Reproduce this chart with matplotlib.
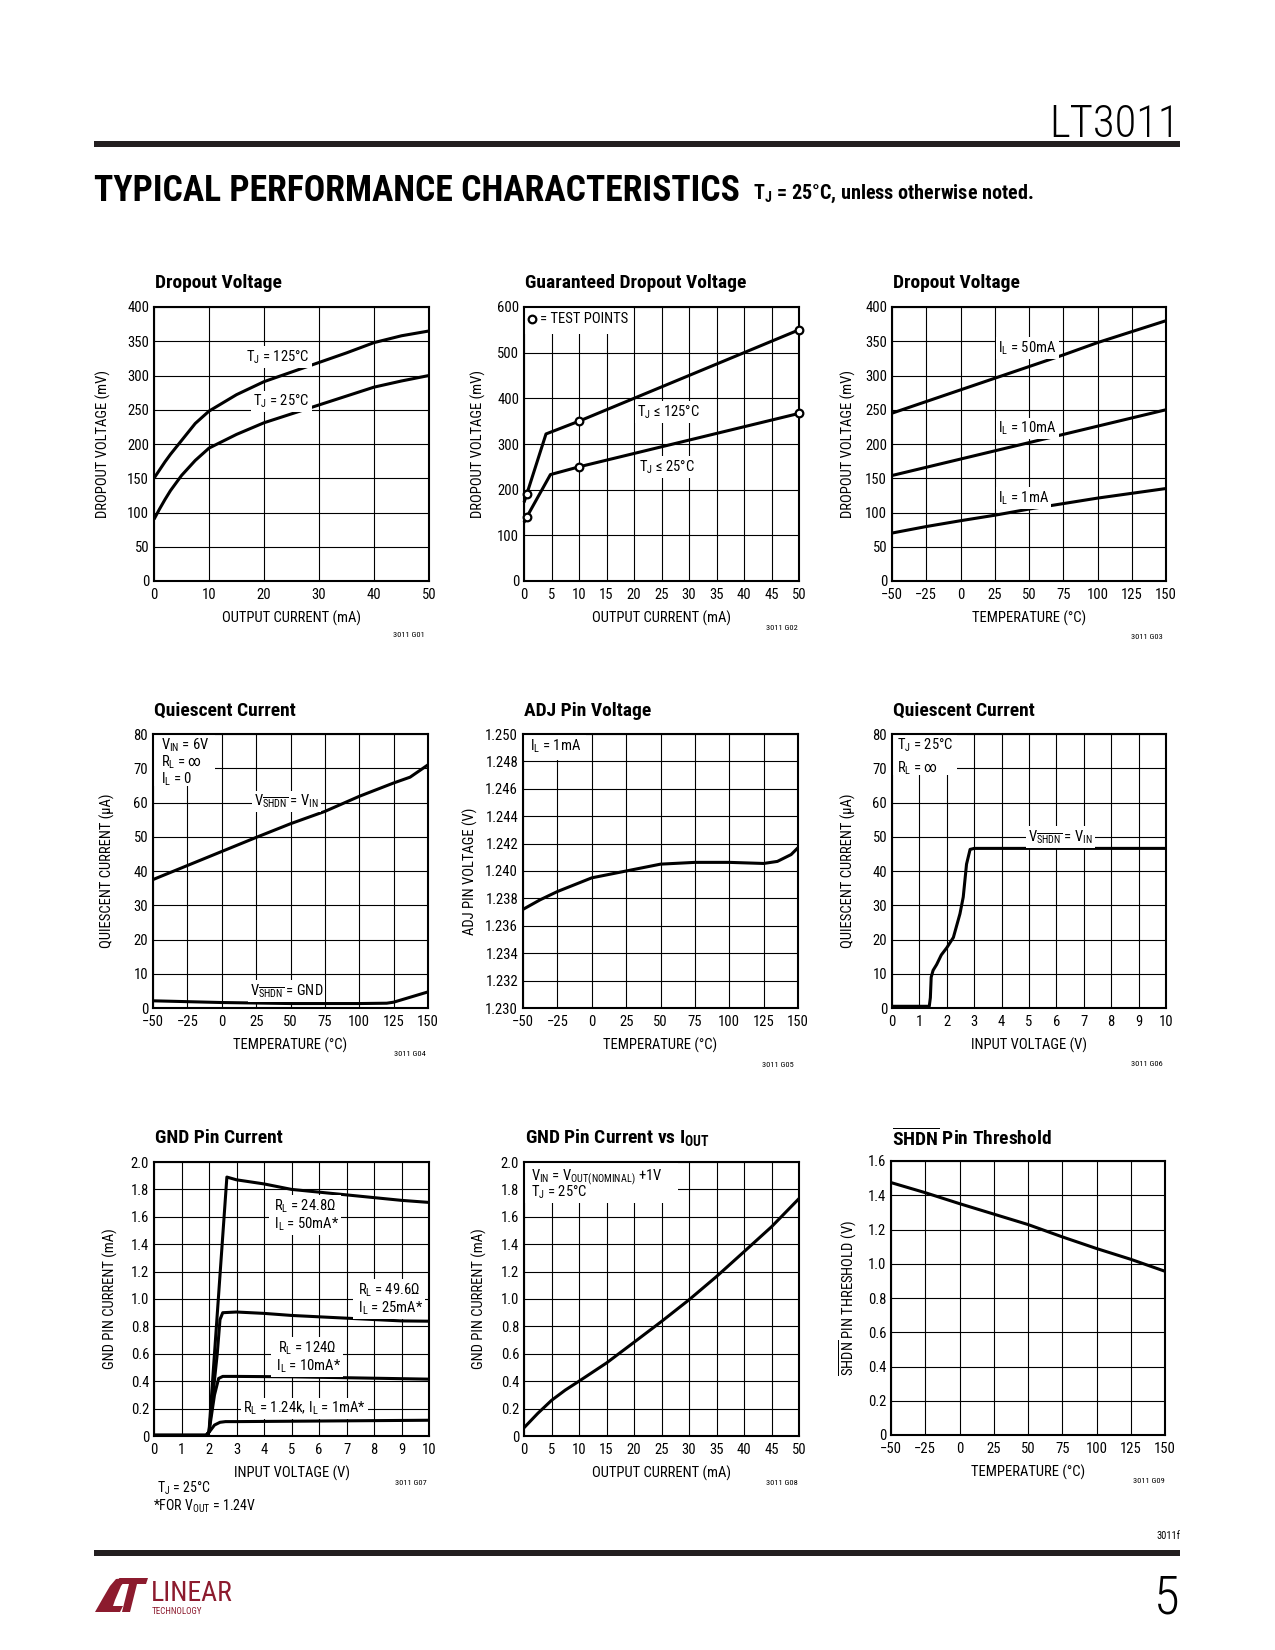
import matplotlib
matplotlib.use('Agg')
import matplotlib.pyplot as plt
from matplotlib import font_manager
from matplotlib.patches import Rectangle, Polygon

W, H = 1275, 1650

# narrow sans (closest to the datasheet's Helvetica Condensed), if installed
_installed = {f.name for f in font_manager.fontManager.ttflist}
FONT = next((f for f in ['Liberation Sans Narrow', 'Roboto Condensed', 'Liberation Sans']
             if f in _installed), 'DejaVu Sans')

plt.rcParams['font.family'] = [FONT, 'DejaVu Sans']
plt.rcParams['mathtext.fontset'] = 'custom'
plt.rcParams['mathtext.rm'] = FONT
plt.rcParams['mathtext.it'] = FONT + ':italic'
plt.rcParams['mathtext.bf'] = FONT + ':bold'

# ---------------------------------------------------------------- data
# G01 dropout voltage vs output current
G01_I = [0, 1, 2, 3, 5, 7.5, 10, 15, 20, 25, 30, 35, 40, 45, 50]
G01_125C = [150, 162, 174, 185, 205, 230, 248, 272, 291, 305, 319, 333, 348, 358, 365]
G01_25C = [90, 105, 119, 132, 154, 176, 194, 214, 231, 244, 257, 270, 283, 292, 300]

# G02 guaranteed dropout voltage (test points at index 1, 3, 4)
G02_I_125C = [0, 0.5, 4, 10, 50]
G02_V_125C = [172, 190, 322, 350, 550]
G02_I_25C = [0, 0.5, 4.8, 10, 50]
G02_V_25C = [128, 140, 233, 250, 367]
G02_TEST_IDX = [1, 3, 4]

# G03 dropout voltage vs temperature
G03_T = [-50, -25, 0, 25, 50, 75, 100, 125, 150]
G03_50MA = [245, 262, 279, 296, 313, 330, 348, 364, 380]
G03_10MA = [154, 166, 178, 190, 202, 214, 226, 238, 250]
G03_1MA = [70, 79.5, 88, 96, 105, 113, 121, 128, 135]

# G04 quiescent current vs temperature
G04_T_ON = [-50, -25, 0, 25, 50, 75, 100, 125, 137, 150]
G04_ON = [37.5, 41.6, 45.7, 49.8, 53.8, 57.4, 61.8, 65.7, 67.4, 71]
G04_T_OFF = [-50, 0, 50, 100, 120, 125, 150]
G04_OFF = [2.1, 1.6, 1.3, 1.3, 1.4, 1.7, 4.7]

# G05 ADJ pin voltage vs temperature
G05_T = [-50, -37.5, -25, -12.5, 0, 25, 50, 75, 100, 125, 135, 145, 150]
G05_V = [1.2372, 1.2379, 1.2385, 1.2390, 1.2395, 1.2400, 1.2405, 1.24063,
         1.24063, 1.24055, 1.2407, 1.2412, 1.2417]

# G06 quiescent current vs input voltage
G06_V = [0, 1.36, 1.40, 1.43, 1.5, 1.63, 1.8, 2.0, 2.24, 2.48, 2.6, 2.72, 2.85, 3.0, 10]
G06_I = [0.5, 0.5, 3, 9, 11, 12.7, 15.5, 17.6, 20.6, 27.5, 32.4, 42, 46.3, 46.6, 46.6]

# G07 GND pin current vs input voltage
G07_V_50MA = [0, 1.9, 2.0, 2.65, 3, 4, 5, 6, 7, 8, 9, 10]
G07_50MA = [0.005, 0.005, 0.03, 1.89, 1.87, 1.84, 1.80, 1.78, 1.76, 1.74, 1.72, 1.705]
G07_V_25MA = [0, 1.9, 2.0, 2.3, 2.4, 2.5, 3, 4, 5, 6, 7, 8, 9, 10]
G07_25MA = [0.005, 0.005, 0.03, 0.6, 0.85, 0.9, 0.905, 0.895, 0.88, 0.87, 0.86, 0.85, 0.84, 0.838]
G07_V_10MA = [0, 1.9, 2.0, 2.2, 2.35, 2.5, 3, 5, 10]
G07_10MA = [0.005, 0.005, 0.03, 0.3, 0.42, 0.435, 0.435, 0.432, 0.415]
G07_V_1MA = [0, 1.9, 2.05, 2.2, 2.4, 2.6, 3, 10]
G07_1MA = [0.005, 0.005, 0.04, 0.08, 0.10, 0.105, 0.105, 0.115]

# G08 GND pin current vs output current
G08_I = [0, 2.5, 5, 7.5, 10, 15, 20, 25, 30, 35, 40, 45, 50]
G08_V = [0.06, 0.165, 0.26, 0.335, 0.40, 0.533, 0.684, 0.836, 0.994, 1.164, 1.345, 1.527, 1.733]

# G09 SHDN pin threshold vs temperature
G09_T = [-50, -25, 0, 25, 50, 75, 100, 125, 150]
G09_V = [1.474, 1.415, 1.351, 1.29, 1.229, 1.157, 1.089, 1.026, 0.956]

# tick labels
CUR50_TICKS = [0, 10, 20, 30, 40, 50]
CUR50_FINE = list(range(0, 55, 5))
TEMP_TICKS = [-50, -25, 0, 25, 50, 75, 100, 125, 150]
TEMP_LABELS = ['\u221250', '\u221225', '0', '25', '50', '75', '100', '125', '150']
VIN_TICKS = list(range(0, 11))
MV400_TICKS = list(range(0, 450, 50))
MV600_TICKS = list(range(0, 700, 100))
UA80_TICKS = list(range(0, 90, 10))
ADJ_TICKS = [1.230, 1.232, 1.234, 1.236, 1.238, 1.240, 1.242, 1.244, 1.246, 1.248, 1.250]
ADJ_LABELS = ['%.3f' % v for v in ADJ_TICKS]
MA2_TICKS = [0, 0.2, 0.4, 0.6, 0.8, 1.0, 1.2, 1.4, 1.6, 1.8, 2.0]
MA2_LABELS = ['0', '0.2', '0.4', '0.6', '0.8', '1.0', '1.2', '1.4', '1.6', '1.8', '2.0']
V16_TICKS = [0, 0.2, 0.4, 0.6, 0.8, 1.0, 1.2, 1.4, 1.6]
V16_LABELS = ['0', '0.2', '0.4', '0.6', '0.8', '1.0', '1.2', '1.4', '1.6']

SHDN = r'$_{\overline{\mathrm{SHDN}}}$'
LW = 2.2
FS_TICK = 10.5
FS_LABEL = 10.5
FS_NOTE = 10.5
BOX = dict(facecolor='white', edgecolor='none', pad=1.5)

fig = plt.figure(figsize=(W / 100, H / 100), dpi=100)


def fx(x):
    return x / W


def fy(y):
    return 1 - y / H


def add_panel(left, top, width=275, height=274):
    return fig.add_axes([fx(left), fy(top + height), width / W, height / H])


def style_axes(ax, xlim, xticks, xlabels, ylim, yticks, ylabels, xlabel, ylabel, ylab_x):
    ax.set_xlim(xlim)
    ax.set_ylim(ylim)
    ax.set_xticks(xticks)
    ax.set_xticklabels(xlabels if xlabels else [str(t) for t in xticks])
    ax.set_yticks(yticks)
    ax.set_yticklabels(ylabels if ylabels else [str(t) for t in yticks])
    ax.grid(True, color='black', linewidth=0.8)
    ax.set_axisbelow(True)
    ax.tick_params(axis='both', length=0, labelsize=FS_TICK)
    ax.tick_params(axis='x', pad=5)
    ax.tick_params(axis='y', pad=3.5)
    for s in ax.spines.values():
        s.set_linewidth(1.5)
    ax.set_xlabel(xlabel, fontsize=FS_LABEL)
    ax.set_ylabel(ylabel, fontsize=FS_LABEL)
    ax.xaxis.set_label_coords(0.5, -0.135)
    ax.xaxis.label.set_va('center')
    ax.yaxis.set_label_coords(ylab_x, 0.5)
    ax.yaxis.label.set_va('center')


def panel_title(left, y, text):
    fig.text(fx(left + 1), fy(y), text, fontsize=14, fontweight='bold',
             ha='left', va='center')


def panel_code(right, y, text):
    fig.text(fx(right), fy(y), text, fontsize=6, ha='right', va='center')


def curve(ax, x, y, **kw):
    ax.plot(x, y, color='black', lw=LW, solid_capstyle='butt', **kw)


# ---------------------------------------------------------------- page furniture
fig.text(fx(1180), fy(137), 'LT3011', fontsize=32, fontweight='light',
         ha='right', va='baseline')
fig.add_artist(Rectangle((fx(94), fy(147)), (1180 - 94) / W, 6 / H,
                         transform=fig.transFigure, color='#231f20', lw=0))
fig.text(fx(94), fy(201), 'TYPICAL PERFORMANCE CHARACTERISTICS', fontsize=25.7,
         fontweight='heavy', ha='left', va='baseline')
fig.text(fx(753), fy(199), r'T$_\mathbf{J}$ = 25°C, unless otherwise noted.',
         fontsize=14.5, fontweight='bold', ha='left', va='baseline')

fig.text(fx(1180), fy(1536), '3011f', fontsize=7.5, ha='right', va='center')
fig.add_artist(Rectangle((fx(94), fy(1556)), (1180 - 94) / W, 6 / H,
                         transform=fig.transFigure, color='#231f20', lw=0))
fig.text(fx(1180), fy(1613), '5', fontsize=38, fontweight='light', ha='right',
         va='baseline')

LOGO_RED = '#8c1b2e'
logo_left = [(95, 1612), (103, 1598), (110, 1586), (116, 1579), (127, 1578),
             (121, 1586), (115, 1600), (113, 1606), (123, 1606), (120, 1612)]
logo_right = [(119, 1578), (148, 1578), (146, 1584), (137, 1584), (130, 1612),
              (122, 1612), (129, 1584), (121, 1584)]
for pts in (logo_left, logo_right):
    fig.add_artist(Polygon([(fx(x), fy(y)) for x, y in pts], closed=True,
                           transform=fig.transFigure, color=LOGO_RED, lw=0))
fig.text(fx(151), fy(1607), 'LINEAR', fontsize=20, color=LOGO_RED, ha='left',
         va='bottom')
fig.text(fx(152), fy(1607), 'TECHNOLOGY', fontsize=6.5, color=LOGO_RED, ha='left',
         va='top')

# ---------------------------------------------------------------- G01
ax = add_panel(154, 307)
style_axes(ax, (0, 50), CUR50_TICKS, None, (0, 400), MV400_TICKS, None,
           'OUTPUT CURRENT (mA)', 'DROPOUT VOLTAGE (mV)', -0.185)
curve(ax, G01_I, G01_125C)
curve(ax, G01_I, G01_25C)
ax.text(22.5, 327, r'T$_\mathrm{J}$ = 125°C', fontsize=FS_NOTE, ha='center', va='center',
        bbox=BOX)
ax.text(23.2, 262, r'T$_\mathrm{J}$ = 25°C', fontsize=FS_NOTE, ha='center', va='center',
        bbox=BOX)
panel_title(154, 283, 'Dropout Voltage')
panel_code(425, 635, '3011 G01')

# ---------------------------------------------------------------- G02
ax = add_panel(524, 307)
style_axes(ax, (0, 50), CUR50_FINE, None, (0, 600), MV600_TICKS, None,
           'OUTPUT CURRENT (mA)', 'DROPOUT VOLTAGE (mV)', -0.167)
ax.add_patch(Rectangle((0, 541), 19.8, 59, facecolor='white', edgecolor='none', zorder=1))
for xs, ys in ((G02_I_125C, G02_V_125C), (G02_I_25C, G02_V_25C)):
    curve(ax, xs, ys, marker='o', markevery=G02_TEST_IDX, markersize=5.5,
          markerfacecolor='white', markeredgecolor='black', markeredgewidth=1.6,
          clip_on=False, zorder=3)
ax.plot([1.5], [574], 'o', markersize=5.5, markerfacecolor='white',
        markeredgecolor='black', markeredgewidth=1.6)
ax.text(3.0, 574, '= TEST POINTS', fontsize=FS_NOTE, ha='left', va='center')
ax.text(26.2, 370, r'T$_\mathrm{J}$ ≤ 125°C', fontsize=FS_NOTE, ha='center', va='center',
        bbox=BOX)
ax.text(25.9, 250, r'T$_\mathrm{J}$ ≤ 25°C', fontsize=FS_NOTE, ha='center', va='center',
        bbox=BOX)
panel_title(524, 283, 'Guaranteed Dropout Voltage')
panel_code(798, 628, '3011 G02')

# ---------------------------------------------------------------- G03
ax = add_panel(892, 307, 274)
style_axes(ax, (-50, 150), TEMP_TICKS, TEMP_LABELS, (0, 400), MV400_TICKS, None,
           'TEMPERATURE (°C)', 'DROPOUT VOLTAGE (mV)', -0.16)
curve(ax, G03_T, G03_50MA)
curve(ax, G03_T, G03_10MA)
curve(ax, G03_T, G03_1MA)
ax.text(48.8, 340, r'I$_\mathrm{L}$ = 50mA', fontsize=FS_NOTE, ha='center', va='center',
        bbox=BOX)
ax.text(48.8, 223, r'I$_\mathrm{L}$ = 10mA', fontsize=FS_NOTE, ha='center', va='center',
        bbox=BOX)
ax.text(45.8, 121, r'I$_\mathrm{L}$ = 1mA', fontsize=FS_NOTE, ha='center', va='center',
        bbox=BOX)
panel_title(892, 283, 'Dropout Voltage')
panel_code(1163, 637, '3011 G03')

# ---------------------------------------------------------------- G04
ax = add_panel(153, 734)
style_axes(ax, (-50, 150), TEMP_TICKS, TEMP_LABELS, (0, 80), UA80_TICKS, None,
           'TEMPERATURE (°C)', 'QUIESCENT CURRENT (µA)', -0.167)
ax.add_patch(Rectangle((-50, 64.7), 44.8, 15.3, facecolor='white', edgecolor='none', zorder=1))
curve(ax, G04_T_ON, G04_ON)
curve(ax, G04_T_OFF, G04_OFF)
ax.text(-44, 76.6, r'V$_\mathrm{IN}$ = 6V', fontsize=FS_NOTE, ha='left', va='center')
ax.text(-44, 71.8, r'R$_\mathrm{L}$ = ∞', fontsize=FS_NOTE, ha='left', va='center')
ax.text(-44, 66.9, r'I$_\mathrm{L}$ = 0', fontsize=FS_NOTE, ha='left', va='center')
ax.text(47, 60.3, 'V' + SHDN + r' = V$_\mathrm{IN}$', fontsize=FS_NOTE, ha='center',
        va='center', bbox=BOX)
ax.text(47, 4.9, 'V' + SHDN + ' = GND', fontsize=FS_NOTE, ha='center', va='center',
        bbox=BOX)
panel_title(153, 711, 'Quiescent Current')
panel_code(426, 1054, '3011 G04')

# ---------------------------------------------------------------- G05
ax = add_panel(523, 734)
style_axes(ax, (-50, 150), TEMP_TICKS, TEMP_LABELS, (1.230, 1.250), ADJ_TICKS, ADJ_LABELS,
           'TEMPERATURE (°C)', 'ADJ PIN VOLTAGE (V)', -0.193)
ax.add_patch(Rectangle((-50, 1.2481), 46, 0.0019, facecolor='white', edgecolor='none',
                       zorder=1))
curve(ax, G05_T, G05_V)
ax.text(-44.7, 1.2491, r'I$_\mathrm{L}$ = 1mA', fontsize=FS_NOTE, ha='left', va='center')
panel_title(523, 711, 'ADJ Pin Voltage')
panel_code(794, 1065, '3011 G05')

# ---------------------------------------------------------------- G06
ax = add_panel(892, 734, 274)
style_axes(ax, (0, 10), VIN_TICKS, None, (0, 80), UA80_TICKS, None,
           'INPUT VOLTAGE (V)', 'QUIESCENT CURRENT (µA)', -0.16)
ax.add_patch(Rectangle((0, 68.1), 2.36, 11.9, facecolor='white', edgecolor='none', zorder=1))
curve(ax, G06_V, G06_I)
ax.text(0.17, 76.7, r'T$_\mathrm{J}$ = 25°C', fontsize=FS_NOTE, ha='left', va='center')
ax.text(0.17, 70.0, r'R$_\mathrm{L}$ = ∞', fontsize=FS_NOTE, ha='left', va='center')
ax.text(6.15, 50, 'V' + SHDN + r' = V$_\mathrm{IN}$', fontsize=FS_NOTE, ha='center',
        va='center', bbox=BOX)
panel_title(892, 711, 'Quiescent Current')
panel_code(1163, 1064, '3011 G06')

# ---------------------------------------------------------------- G07
ax = add_panel(154, 1162, 275, 274)
style_axes(ax, (0, 10), VIN_TICKS, None, (0, 2.0), MA2_TICKS, MA2_LABELS,
           'INPUT VOLTAGE (V)', 'GND PIN CURRENT (mA)', -0.16)
curve(ax, G07_V_50MA, G07_50MA)
curve(ax, G07_V_25MA, G07_25MA)
curve(ax, G07_V_10MA, G07_10MA)
curve(ax, G07_V_1MA, G07_1MA)
g07_labels = [
    (5.5, 1.612, 'R$_\\mathrm{L}$ = 24.8Ω\n I$_\\mathrm{L}$ = 50mA*'),
    (8.55, 1.000, 'R$_\\mathrm{L}$ = 49.6Ω\n I$_\\mathrm{L}$ = 25mA*'),
    (5.57, 0.575, 'R$_\\mathrm{L}$ = 124Ω\n I$_\\mathrm{L}$ = 10mA*'),
    (5.48, 0.201, 'R$_\\mathrm{L}$ = 1.24k, I$_\\mathrm{L}$ = 1mA*'),
]
for x, y, s in g07_labels:
    ax.text(x, y, s, fontsize=FS_NOTE, ha='center', va='center', multialignment='center',
            linespacing=1.05, bbox=BOX)
panel_title(154, 1138, 'GND Pin Current')
panel_code(427, 1483, '3011 G07')
fig.text(fx(157), fy(1488), r'T$_\mathrm{J}$ = 25°C', fontsize=10, ha='left',
         va='center')
fig.text(fx(153), fy(1506), r'*FOR V$_\mathrm{OUT}$ = 1.24V', fontsize=10, ha='left',
         va='center')

# ---------------------------------------------------------------- G08
ax = add_panel(524, 1162, 275, 274)
style_axes(ax, (0, 50), CUR50_FINE, None, (0, 2.0), MA2_TICKS, MA2_LABELS,
           'OUTPUT CURRENT (mA)', 'GND PIN CURRENT (mA)', -0.164)
ax.add_patch(Rectangle((0, 1.70), 28, 0.30, facecolor='white', edgecolor='none', zorder=1))
curve(ax, G08_I, G08_V)
ax.text(1.2, 1.89, r'V$_\mathrm{IN}$ = V$_\mathrm{OUT(NOMINAL)}$ +1V', fontsize=FS_NOTE,
        ha='left', va='center')
ax.text(1.2, 1.777, r'T$_\mathrm{J}$ = 25°C', fontsize=FS_NOTE, ha='left', va='center')
panel_title(524, 1138, r'GND Pin Current vs I$_\mathbf{OUT}$')
panel_code(798, 1483, '3011 G08')

# ---------------------------------------------------------------- G09
ax = add_panel(891, 1161, 274)
style_axes(ax, (-50, 150), TEMP_TICKS, TEMP_LABELS, (0, 1.6), V16_TICKS, V16_LABELS,
           'TEMPERATURE (°C)', r'$\overline{\mathrm{SHDN}}$ PIN THRESHOLD (V)', -0.157)
curve(ax, G09_T, G09_V)
panel_title(891, 1138, r'$\overline{\mathbf{SHDN}}$ Pin Threshold')
panel_code(1165, 1481, '3011 G09')

fig.savefig('out.png', dpi=100, facecolor='white')
